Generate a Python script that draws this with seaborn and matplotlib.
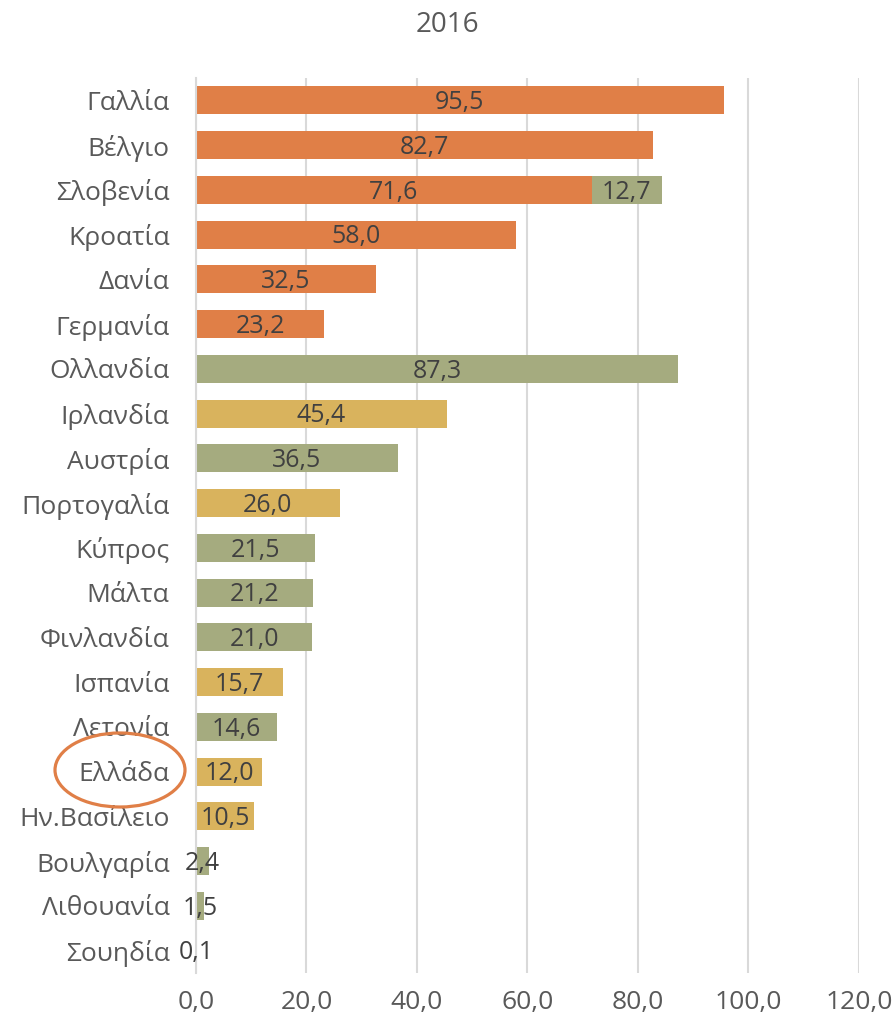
import matplotlib
matplotlib.use("Agg")
import matplotlib.pyplot as plt
from matplotlib.patches import Ellipse
import numpy as np
import pandas as pd
import seaborn as sns

countries = ["Γαλλία", "Βέλγιο", "Σλοβενία", "Κροατία", "Δανία", "Γερμανία",
             "Ολλανδία", "Ιρλανδία", "Αυστρία", "Πορτογαλία", "Κύπρος", "Μάλτα",
             "Φινλανδία", "Ισπανία", "Λετονία", "Ελλάδα", "Ην.Βασίλειο",
             "Βουλγαρία", "Λιθουανία", "Σουηδία"]
orange_vals = [95.5, 82.7, 71.6, 58.0, 32.5, 23.2] + [None] * 14
green_vals = [None, None, 12.7, None, None, None, 87.3, None, 36.5, None, 21.5,
              21.2, 21.0, None, 14.6, None, None, 2.4, 1.5, 0.1]
yellow_vals = [None] * 7 + [45.4, None, 26.0] + [None] * 3 + [15.7, None, 12.0, 10.5] + [None] * 3
x_ticks = [0, 20, 40, 60, 80, 100, 120]
title = "2016"
highlight = "Ελλάδα"

colors = {"orange": "#E07F47", "green": "#A5AB7F", "yellow": "#D9B35D"}

sns.set_theme(style="white")
plt.rcParams["font.family"] = ["Open Sans", "DejaVu Sans"]

fig = plt.figure(figsize=(8.95, 10.25), dpi=100)
ax = fig.add_axes([196 / 895, 1 - 973 / 1025, 663 / 895, 895 / 1025])

ypos = np.arange(len(countries))
bar_h = 0.63

# base segments start at zero; the second Slovenia segment stacks onto the first
rows = []
for name, vals in (("orange", orange_vals), ("green", green_vals), ("yellow", yellow_vals)):
    for i, v in enumerate(vals):
        if v is None:
            continue
        start = orange_vals[i] if (name == "green" and orange_vals[i] is not None) else 0.0
        rows.append({"country": countries[i], "pos": i, "series": name, "value": v, "start": start})
df = pd.DataFrame(rows)

base = df[df["start"] == 0]
sns.barplot(data=base, x="value", y="pos", hue="series", palette=colors,
            orient="h", native_scale=True, dodge=False, width=bar_h,
            legend=False, ax=ax, saturation=1, errorbar=None)
stacked = df[df["start"] > 0]
for _, r in stacked.iterrows():
    ax.barh(r["pos"], r["value"], left=r["start"], height=bar_h,
            color=colors[r["series"]], linewidth=0)

for p in ax.patches:
    p.set_linewidth(0)

# value labels centred on each segment
for _, r in df.iterrows():
    label = f"{r['value']:.1f}".replace(".", ",")
    ax.text(r["start"] + r["value"] / 2, r["pos"] + 0.05, label, ha="center", va="center",
            fontsize=18, color="#404040")

ax.set_xlim(0, 120)
ax.set_ylim(len(countries) - 0.5, -0.5)
ax.set_xticks(x_ticks)
ax.set_xticklabels([f"{t:.1f}".replace(".", ",") for t in x_ticks])
ax.set_yticks(ypos)
ax.set_yticklabels(countries)
ax.tick_params(axis="both", length=0, labelsize=19, labelcolor="#595959")
ax.tick_params(axis="x", pad=12)
ax.tick_params(axis="y", pad=19)
ax.set_xlabel("")
ax.set_ylabel("")
ax.xaxis.grid(True, color="#D9D9D9", linewidth=1.5)
ax.set_axisbelow(True)
for side in ("top", "right", "bottom"):
    ax.spines[side].set_visible(False)
ax.spines["left"].set_color("#D9D9D9")
ax.spines["left"].set_linewidth(1.5)

fig.text(0.5, 1 - 25 / 1025, title, ha="center", va="center", fontsize=20, color="#595959")

# ring around the highlighted country name
ell = Ellipse((120 / 895, 1 - 770 / 1025), 130 / 895, 74 / 1025,
              transform=fig.transFigure, fill=False, edgecolor="#E07F47", linewidth=2.3)
fig.add_artist(ell)

fig.savefig("out.png", dpi=100)
